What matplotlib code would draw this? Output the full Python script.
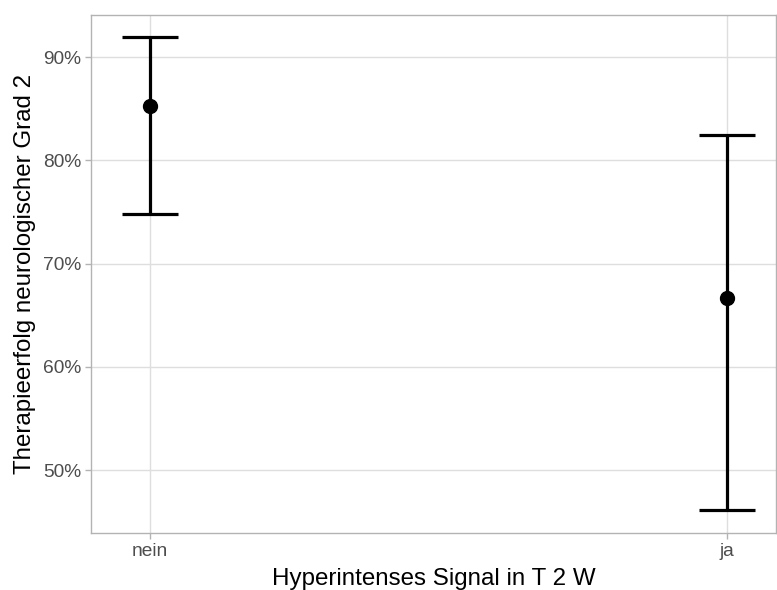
import numpy as np
import matplotlib.pyplot as plt
from matplotlib.ticker import FuncFormatter

plt.rcParams['font.family'] = ['Liberation Sans', 'DejaVu Sans']

# data (percent)
groups = ['nein', 'ja']
estimate = [85.3, 66.7]
lower = [74.8, 46.1]
upper = [91.9, 82.4]
yticks = [50, 60, 70, 80, 90]

fig = plt.figure(figsize=(7.77, 5.90), dpi=100)
ax = fig.add_axes([91 / 777, 57 / 590, 685 / 777, 518 / 590])

x = np.arange(1, len(groups) + 1)
est = np.array(estimate)
err = [est - np.array(lower), np.array(upper) - est]
ax.errorbar(x, est, yerr=err, fmt='o', color='black', ms=10, lw=2.3,
            capsize=20.5, capthick=2.3, zorder=3)

ax.set_xlim(1 - 59 / 577, 2 + 49 / 577)
ax.set_ylim(43.9, 94.07)
ax.set_xticks(x)
ax.set_xticklabels(groups)
ax.set_yticks(yticks)
ax.yaxis.set_major_formatter(FuncFormatter(lambda v, p: f'{v:.0f}%'))

ax.grid(True, color='#DEDEDE', lw=1.0, zorder=0)
ax.set_axisbelow(True)
for s in ax.spines.values():
    s.set_color('#B3B3B3')
    s.set_linewidth(1.0)
ax.tick_params(colors='#B3B3B3', labelcolor='#4D4D4D', labelsize=13.8,
               length=4, width=1.0, pad=3)

ax.set_xlabel('Hyperintenses Signal in T 2 W', fontsize=17.4, labelpad=6)
ax.set_ylabel('Therapieerfolg neurologischer Grad 2', fontsize=17.4, labelpad=5)

fig.savefig('out.png', dpi=100)
